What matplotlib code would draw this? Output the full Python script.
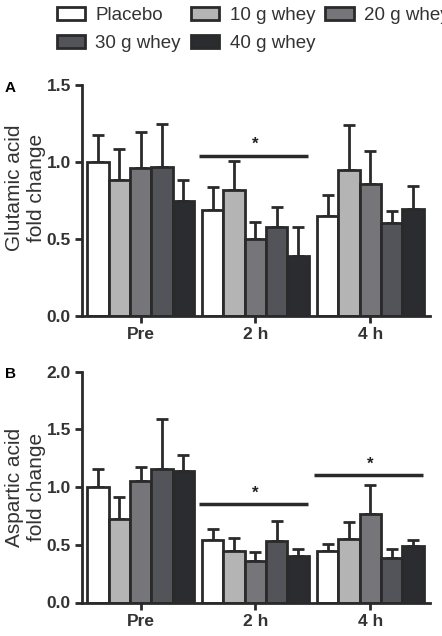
import numpy as np
import matplotlib.pyplot as plt

plt.rcParams['font.family'] = ['Liberation Sans', 'DejaVu Sans']

groups = ['Pre', '2 h', '4 h']
series = ['Placebo', '10 g whey', '20 g whey', '30 g whey', '40 g whey']
colors = ['#ffffff', '#b4b4b4', '#76767a', '#525459', '#2b2c30']
edge = '#2a2a2a'

# Glutamic acid fold change (mean, upper SD) per series across Pre, 2 h, 4 h
glu_mean = [[1.00, 0.69, 0.65],
            [0.88, 0.815, 0.95],
            [0.96, 0.50, 0.855],
            [0.97, 0.58, 0.605],
            [0.745, 0.39, 0.695]]
glu_err = [[0.175, 0.15, 0.135],
           [0.205, 0.19, 0.29],
           [0.235, 0.11, 0.215],
           [0.275, 0.13, 0.08],
           [0.135, 0.19, 0.15]]

# Aspartic acid fold change
asp_mean = [[1.00, 0.545, 0.45],
            [0.72, 0.445, 0.55],
            [1.05, 0.355, 0.765],
            [1.16, 0.53, 0.385],
            [1.135, 0.40, 0.49]]
asp_err = [[0.155, 0.095, 0.055],
           [0.19, 0.11, 0.145],
           [0.125, 0.08, 0.25],
           [0.425, 0.175, 0.075],
           [0.145, 0.06, 0.055]]

glu_sig = [(1, 1.04)]
asp_sig = [(1, 0.85), (2, 1.10)]

fig = plt.figure(figsize=(4.42, 6.36), dpi=100)
W, H = 442, 636
axA = fig.add_axes([82 / W, 1 - 316 / H, 348 / W, 231 / H])
axB = fig.add_axes([82 / W, 1 - 602.5 / H, 348 / W, 231 / H])

x = np.arange(len(groups))
bw = 0.186


def draw(ax, means, errs, ymax, ylabel, sig, label_y):
    for i in range(len(series)):
        pos = x + (i - 2) * bw
        ax.bar(pos, means[i], bw, color=colors[i], edgecolor=edge, linewidth=2,
               zorder=2, label=series[i])
        ax.errorbar(pos, means[i], yerr=[np.zeros(3), errs[i]], fmt='none',
                    ecolor=edge, elinewidth=2, capsize=4.5, capthick=2, zorder=1)
    for g, y in sig:
        ax.plot([g - 0.49, g + 0.46], [y, y], color=edge, lw=2.5,
                solid_capstyle='butt')
        ax.text(g, y + 0.025 * ymax / 1.5, '*', ha='center', va='bottom',
                fontsize=12, fontweight='bold', color='#222222')
    ax.set_xlim(-0.51, 2.52)
    ax.set_ylim(0, ymax)
    ticks = np.arange(0, ymax + 0.01, 0.5)
    ax.set_yticks(ticks)
    ax.set_yticklabels(['%.1f' % v for v in ticks])
    ax.set_xticks(x)
    ax.set_xticklabels(groups)
    for s in ['top', 'right']:
        ax.spines[s].set_visible(False)
    for s in ['left', 'bottom']:
        ax.spines[s].set_linewidth(2)
        ax.spines[s].set_color(edge)
    ax.tick_params(width=2, length=5, color=edge, labelsize=12.5, pad=3)
    for t in ax.get_xticklabels() + ax.get_yticklabels():
        t.set_fontweight('bold')
        t.set_color('#333333')
    ax.set_ylabel(ylabel, fontsize=15, color='#333333', linespacing=1.2)
    ax.yaxis.set_label_coords(-0.103, label_y)


draw(axA, glu_mean, glu_err, 1.5, 'Glutamic acid\nfold change', glu_sig, 0.555)
draw(axB, asp_mean, asp_err, 2.0, 'Aspartic acid\nfold change', asp_sig, 0.5)

fig.text(5 / W, 1 - 88 / H, 'A', fontsize=11, fontweight='bold', va='center')
fig.text(5 / W, 1 - 374 / H, 'B', fontsize=11, fontweight='bold', va='center')

handles, labels = axA.get_legend_handles_labels()
order = [0, 3, 1, 4, 2]
fig.legend([handles[i] for i in order], [labels[i] for i in order],
           loc='upper left', bbox_to_anchor=(40 / W, 1.0 + 10 / H),
           ncol=3, frameon=False, fontsize=13.5, handlelength=1.5,
           handleheight=0.65, columnspacing=0.55, handletextpad=0.55,
           labelspacing=0.6, labelcolor='#333333')

fig.savefig('out.png', dpi=100)
